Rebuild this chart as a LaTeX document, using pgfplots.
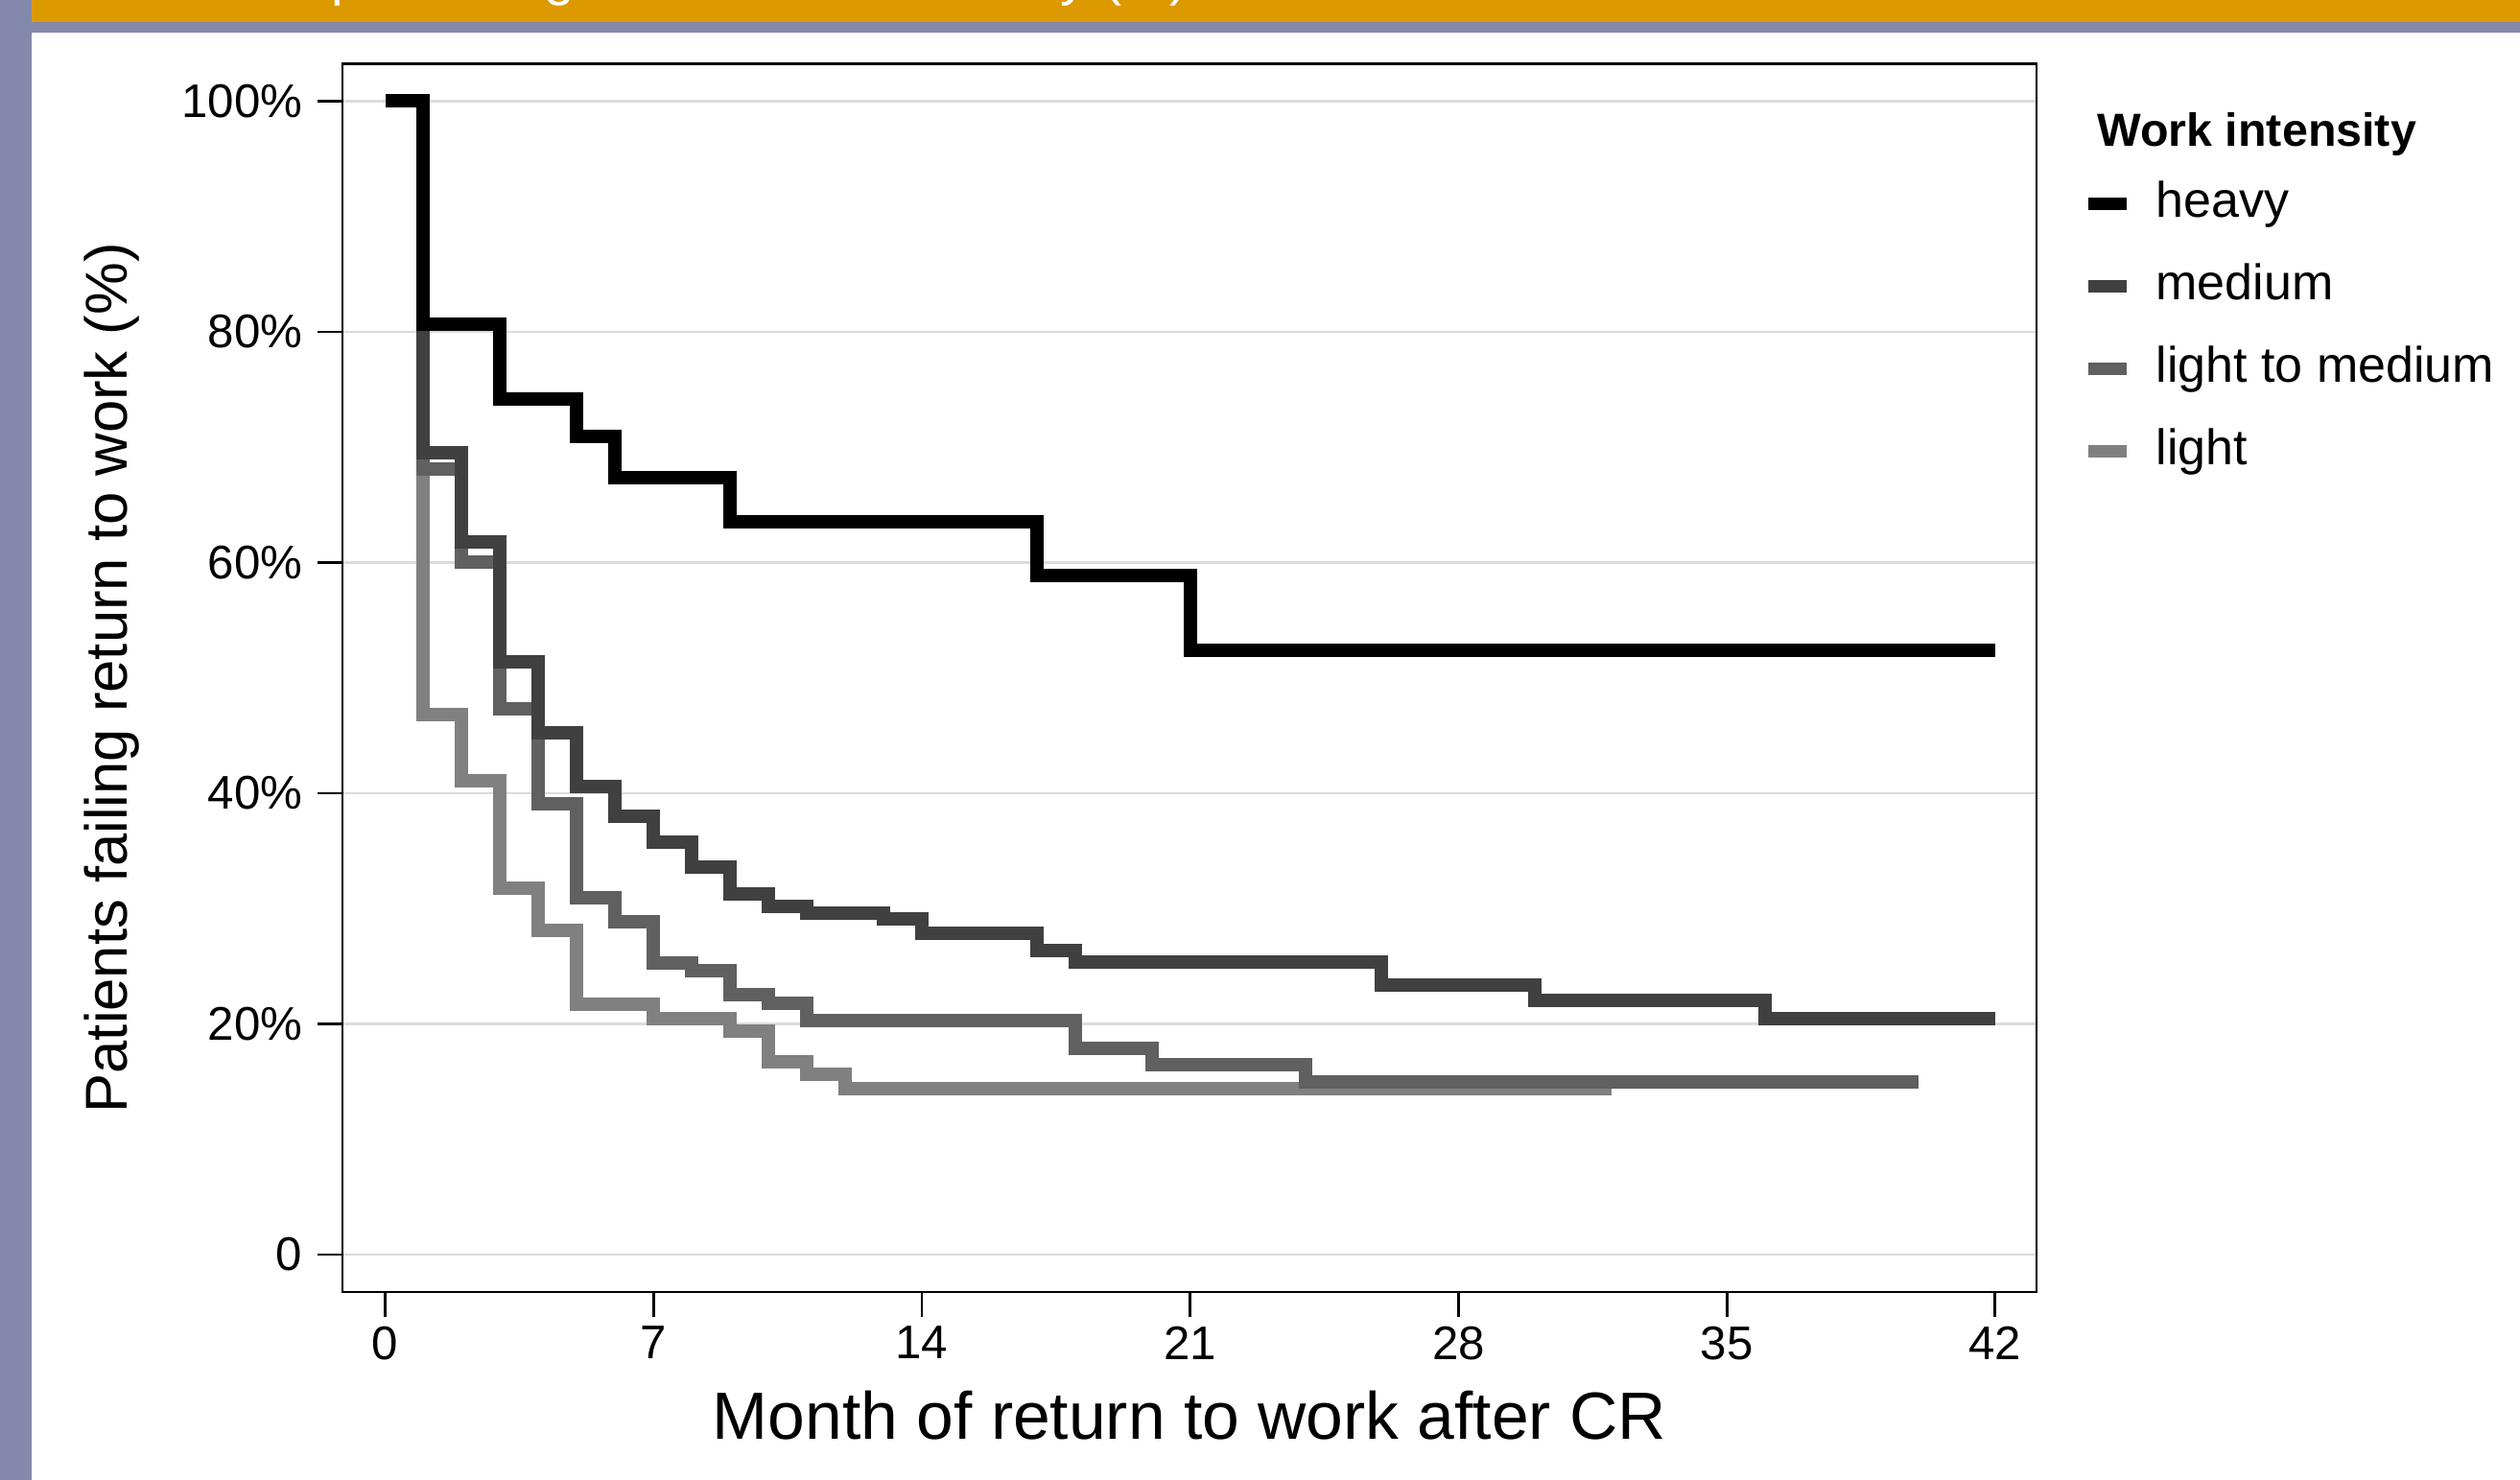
\documentclass[border=0pt]{standalone}
\usepackage{fontspec}
\setmainfont{Liberation Sans}
\usepackage{pgfplots}
\usepackage{pgfplotstable}
\pgfplotsset{compat=1.18}
\definecolor{barorange}{HTML}{DD9900}
\definecolor{barpurple}{HTML}{8488AA}
\definecolor{cmed}{HTML}{404040}
\definecolor{clm}{HTML}{606060}
\definecolor{clight}{HTML}{808080}
\definecolor{gridgray}{HTML}{DCDCDC}

\pgfplotstableread{
t v
0 100
1 80.7
3 74.2
5 70.9
6 67.4
9 63.5
17 58.9
21 52.4
42 52.4
}\heavy

\pgfplotstableread{
t v
0 100
1 69.5
2 61.8
3 51.4
4 45.2
5 40.6
6 38.0
7 35.8
8 33.6
9 31.3
10 30.2
11 29.6
13 29.1
14 27.9
17 26.4
18 25.4
26 23.4
30 22.0
36 20.5
42 20.5
}\medium

\pgfplotstableread{
t v
0 100
1 68.1
2 60.0
3 47.3
4 39.1
5 30.9
6 28.9
7 25.3
8 24.6
9 22.5
10 21.8
11 20.3
18 17.9
20 16.5
24 15.0
40 15.0
}\lightmed

\pgfplotstableread{
t v
0 100
1 46.8
2 41.1
3 31.8
4 28.1
5 21.7
7 20.5
9 19.4
10 16.7
11 15.6
12 14.4
32 14.4
}\light

\begin{document}
\begin{tikzpicture}
\path[use as bounding box, fill=white] (0,0) rectangle (656.75pt,-385.75pt);
\fill[barpurple] (0,0) rectangle (8.25pt,-385.75pt);
\fill[barorange] (8.25pt,0) rectangle (656.75pt,-5.75pt);
\fill[barpurple] (8.25pt,-5.75pt) rectangle (656.75pt,-8.5pt);
\node[anchor=base west, inner sep=0pt, text=white, font=\fontsize{14.25}{16}\selectfont] at (11pt,1.5pt) {Cumulative percentage of return to work by (\%)};
\node[anchor=base west, inner sep=0pt, font=\fontsize{12.1}{14}\selectfont\bfseries] at (546.4pt,-38pt) {Work intensity};
\begin{axis}[
  at={(89.25pt,-336.75pt)}, anchor=south west,
  scale only axis, width=441.5pt, height=320.1pt,
  xmin=-1.114, xmax=43.08, ymin=-3.24, ymax=103.23,
  xtick={0,7,...,42}, ytick={0,20,...,100},
  yticklabels={0,20\%,40\%,60\%,80\%,100\%},
  tick align=outside, xtick pos=bottom, ytick pos=left,
  major tick length=6.5pt,
  every tick/.style={black, line width=0.7pt},
  axis line style={line width=0.6pt},
  ymajorgrids, major grid style={gridgray, line width=0.6pt},
  /pgf/number format/assume math mode=true,
  ticklabel style={font=\fontsize{12.3}{14}\selectfont},
  yticklabel style={inner sep=0pt, xshift=-3.75pt},
  xticklabel style={inner sep=0pt, yshift=-2.25pt},
  xlabel={Month of return to work after CR},
  ylabel={Patients failing return to work (\%)},
  xlabel style={at={(axis description cs:0.5,-0.11949)}, anchor=base, font=\fontsize{17.4}{20}\selectfont, inner sep=0pt},
  ylabel style={at={(axis description cs:-0.12684,0.5)}, rotate=0, anchor=base, font=\fontsize{15.4}{18}\selectfont, inner sep=0pt},
  reverse legend,
  legend cell align=left,
  legend image code/.code={\draw[#1, line width=3.4pt] (0pt,0pt) -- (10pt,0pt);},
  legend style={draw=none, fill=none, inner sep=0pt, outer sep=0pt,
    row sep=9.5pt, column sep=5.8pt,
    nodes={inner sep=0pt, text height=9.5pt, text depth=2.5pt, font=\fontsize{13}{15}\selectfont},
    at={(axis description cs:1.0270,0.9047)}, anchor=north west},
  every axis plot/.append style={line width=3.5pt, line join=miter, const plot},
]
\addplot[clight] table[x=t, y=v] {\light};
\addlegendentry{light}
\addplot[clm] table[x=t, y=v] {\lightmed};
\addlegendentry{light to medium}
\addplot[cmed] table[x=t, y=v] {\medium};
\addlegendentry{medium}
\addplot[black] table[x=t, y=v] {\heavy};
\addlegendentry{heavy}
\end{axis}
\end{tikzpicture}
\end{document}
